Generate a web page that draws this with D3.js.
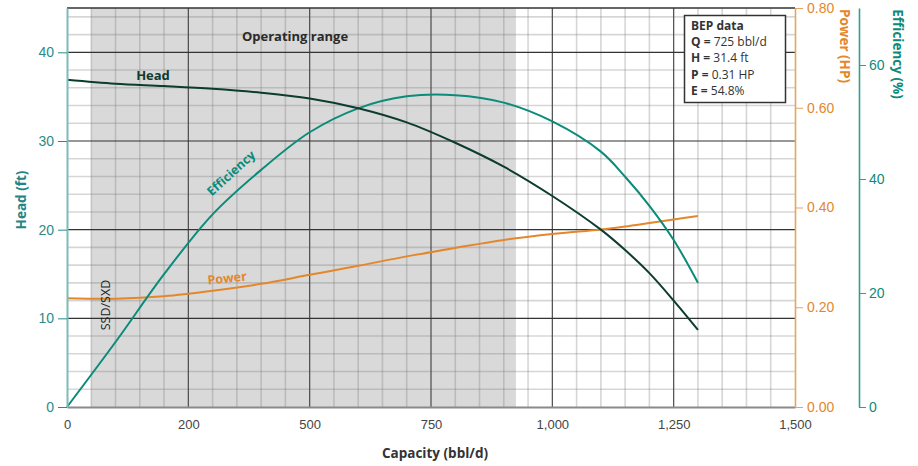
<!DOCTYPE html>
<html>
<head>
<meta charset="utf-8">
<script src="https://cdn.jsdelivr.net/npm/d3@7"></script>
<style>
  body { margin: 0; background: #fff; }
  svg { font-family: "Open Sans", "Noto Sans", sans-serif; }
</style>
</head>
<body>
<div id="vis"></div>
<script>
// pump curve chart

const FRAME_WIDTH = 918;
const FRAME_HEIGHT = 466;
const MARGINS = {left: 67, right: 123, top: 8, bottom: 59};

// data
const CAPACITY = [0, 100, 200, 300, 400, 500, 600, 700, 800, 900, 1000, 1100, 1150, 1200, 1250, 1300];
const HEAD = [36.9, 36.45, 36.2, 35.9, 35.45, 34.8, 33.7, 32.1, 29.8, 27.1, 23.8, 20.0, 17.7, 15.1, 12.0, 8.7];
const EFFICIENCY = [0, 11.4, 23.3, 33.8, 41.6, 48.2, 52.4, 54.5, 54.7, 53.4, 50.1, 44.8, 40.4, 35.3, 29.3, 21.8];
const POWER = [0.218, 0.217, 0.222, 0.233, 0.247, 0.265, 0.283, 0.302, 0.319, 0.335, 0.347, 0.356,
               0.362, 0.369, 0.376, 0.383];

const X_TICKS = [0, 250, 500, 750, 1000, 1250, 1500];
const X_TICK_LABELS = ["0", "200", "500", "750", "1,000", "1,250", "1,500"];
const HEAD_TICKS = [0, 10, 20, 30, 40];
const POWER_TICKS = [0, 0.2, 0.4, 0.6, 0.8];
const EFF_TICKS = [0, 20, 40, 60];
const OPERATING_RANGE = [50, 925];
const BEP_LINES = [["Q =", " 725 bbl/d"], ["H =", " 31.4 ft"], ["P =", " 0.31 HP"], ["E =", " 54.8%"]];

const HEAD_COLOR = "#0c3b2f";
const EFF_COLOR = "#0b8b7a";
const POWER_COLOR = "#e4872b";
const TEAL_TEXT = "#2a8b8c";

const VIS_WIDTH = FRAME_WIDTH - MARGINS.left - MARGINS.right;
const VIS_HEIGHT = FRAME_HEIGHT - MARGINS.top - MARGINS.bottom;
const X0 = MARGINS.left, X1 = MARGINS.left + VIS_WIDTH;
const Y0 = MARGINS.top + VIS_HEIGHT, Y1 = MARGINS.top;

const FRAME = d3.select("#vis")
                .append("svg")
                    .attr("width", FRAME_WIDTH)
                    .attr("height", FRAME_HEIGHT);

const X_SCALE = d3.scaleLinear().domain([0, 1500]).range([X0, X1]);
const HEAD_SCALE = d3.scaleLinear().domain([0, 45]).range([Y0, Y1]);
const POWER_SCALE = d3.scaleLinear().domain([0, 0.8]).range([Y0, Y1]);
const EFF_SCALE = d3.scaleLinear().domain([0, 70]).range([Y0, Y1]);

// operating range shading
FRAME.append("rect")
    .attr("x", X_SCALE(OPERATING_RANGE[0]))
    .attr("y", Y1)
    .attr("width", X_SCALE(OPERATING_RANGE[1]) - X_SCALE(OPERATING_RANGE[0]))
    .attr("height", Y0 - Y1)
    .attr("fill", "#d9d9d9");

// minor grid
FRAME.append("g")
    .selectAll("line")
    .data(d3.range(50, 1500, 50).filter((d) => d % 250 != 0))
    .enter()
    .append("line")
        .attr("x1", (d) => X_SCALE(d))
        .attr("x2", (d) => X_SCALE(d))
        .attr("y1", Y1).attr("y2", Y0)
        .attr("stroke", "rgba(120,120,120,0.3)")
        .attr("stroke-width", 1.6);

FRAME.append("g")
    .selectAll("line")
    .data(d3.range(2, 46, 2).filter((d) => d % 10 != 0))
    .enter()
    .append("line")
        .attr("x1", X0).attr("x2", X1)
        .attr("y1", (d) => HEAD_SCALE(d))
        .attr("y2", (d) => HEAD_SCALE(d))
        .attr("stroke", "rgba(120,120,120,0.3)")
        .attr("stroke-width", 1.6);

// major grid
FRAME.append("g")
    .selectAll("line")
    .data(X_TICKS.slice(1, -1))
    .enter()
    .append("line")
        .attr("x1", (d) => X_SCALE(d))
        .attr("x2", (d) => X_SCALE(d))
        .attr("y1", Y1).attr("y2", Y0)
        .attr("stroke", "#4a4a4a")
        .attr("stroke-width", 1.2);

FRAME.append("g")
    .selectAll("line")
    .data(HEAD_TICKS.slice(1))
    .enter()
    .append("line")
        .attr("x1", X0).attr("x2", X1)
        .attr("y1", (d) => HEAD_SCALE(d))
        .attr("y2", (d) => HEAD_SCALE(d))
        .attr("stroke", "#333")
        .attr("stroke-width", 1.2);

// top border
FRAME.append("line")
    .attr("x1", X0).attr("x2", X1)
    .attr("y1", Y1).attr("y2", Y1)
    .attr("stroke", "#333")
    .attr("stroke-width", 1.5);

// curves
function draw_curve(values, yScale, color) {
    const line = d3.line()
        .x((d, i) => X_SCALE(CAPACITY[i]))
        .y((d) => yScale(d))
        .curve(d3.curveCatmullRom.alpha(0.5));
    FRAME.append("path")
        .datum(values)
        .attr("d", line)
        .attr("fill", "none")
        .attr("stroke", color)
        .attr("stroke-width", 2);
}

draw_curve(POWER, POWER_SCALE, POWER_COLOR);
draw_curve(EFFICIENCY, EFF_SCALE, EFF_COLOR);
draw_curve(HEAD, HEAD_SCALE, HEAD_COLOR);

// x axis
const X_AXIS = FRAME.append("g")
    .attr("transform", "translate(0," + Y0 + ")")
    .call(d3.axisBottom(X_SCALE)
            .tickValues(X_TICKS)
            .tickSize(0)
            .tickPadding(13)
            .tickFormat((d, i) => X_TICK_LABELS[i]));
X_AXIS.select(".domain").attr("stroke", "#8a8a8a").attr("stroke-width", 2.2);
X_AXIS.selectAll("text").attr("font-size", "13px").attr("fill", "#444");

// head axis (left)
const HEAD_AXIS = FRAME.append("g")
    .attr("transform", "translate(" + X0 + ",0)")
    .call(d3.axisLeft(HEAD_SCALE).tickValues(HEAD_TICKS).tickSize(9).tickSizeOuter(0).tickPadding(4));
HEAD_AXIS.select(".domain").attr("stroke", "#7dbcbc").attr("stroke-width", 2);
HEAD_AXIS.selectAll("line").attr("stroke", TEAL_TEXT);
HEAD_AXIS.selectAll("text").attr("font-size", "14px").attr("fill", TEAL_TEXT);

// power axis (right)
const POWER_AXIS = FRAME.append("g")
    .attr("transform", "translate(" + X1 + ",0)")
    .call(d3.axisRight(POWER_SCALE).tickValues(POWER_TICKS).tickSize(8).tickSizeOuter(0)
            .tickPadding(4).tickFormat(d3.format(".2f")));
POWER_AXIS.select(".domain").attr("stroke", "#eaa35f").attr("stroke-width", 1.6);
POWER_AXIS.selectAll("line").attr("stroke", "#eaa35f");
POWER_AXIS.selectAll("text").attr("font-size", "14px").attr("fill", POWER_COLOR);

// efficiency axis (far right)
const EFF_AXIS = FRAME.append("g")
    .attr("transform", "translate(859,0)")
    .call(d3.axisRight(EFF_SCALE).tickValues(EFF_TICKS).tickSize(7).tickSizeOuter(0).tickPadding(3));
EFF_AXIS.select(".domain").attr("stroke", "#2f9f90").attr("stroke-width", 1.6);
EFF_AXIS.selectAll("line").attr("stroke", "#2f9f90");
EFF_AXIS.selectAll("text").attr("font-size", "14px").attr("fill", EFF_COLOR);

// axis titles
FRAME.append("text")
    .attr("transform", "translate(21,200) rotate(-90)")
    .attr("text-anchor", "middle")
    .attr("dominant-baseline", "central")
    .attr("font-size", "13.5px").attr("font-weight", "bold")
    .attr("fill", "#1f8585")
    .text("Head (ft)");

FRAME.append("text")
    .attr("transform", "translate(845,46) rotate(90)")
    .attr("text-anchor", "middle")
    .attr("dominant-baseline", "central")
    .attr("font-size", "13.5px").attr("font-weight", "bold")
    .attr("fill", POWER_COLOR)
    .text("Power (HP)");

FRAME.append("text")
    .attr("transform", "translate(898,54) rotate(90)")
    .attr("text-anchor", "middle")
    .attr("dominant-baseline", "central")
    .attr("font-size", "13.5px").attr("font-weight", "bold")
    .attr("fill", EFF_COLOR)
    .text("Efficiency (%)");

FRAME.append("text")
    .attr("x", 435).attr("y", 458)
    .attr("text-anchor", "middle")
    .attr("font-size", "13.5px").attr("font-weight", "bold")
    .attr("fill", "#333")
    .text("Capacity (bbl/d)");

// curve labels
FRAME.append("text")
    .attr("x", 295).attr("y", 41)
    .attr("text-anchor", "middle")
    .attr("font-size", "13px").attr("font-weight", "bold")
    .attr("fill", "#2a2a2a")
    .text("Operating range");

FRAME.append("text")
    .attr("x", 153).attr("y", 80)
    .attr("text-anchor", "middle")
    .attr("font-size", "13px").attr("font-weight", "bold")
    .attr("fill", HEAD_COLOR)
    .text("Head");

FRAME.append("text")
    .attr("transform", "translate(231,173) rotate(-42)")
    .attr("text-anchor", "middle")
    .attr("dominant-baseline", "central")
    .attr("font-size", "12.5px").attr("font-weight", "bold")
    .attr("fill", EFF_COLOR)
    .text("Efficiency");

FRAME.append("text")
    .attr("transform", "translate(227,278) rotate(-6)")
    .attr("text-anchor", "middle")
    .attr("dominant-baseline", "central")
    .attr("font-size", "12.5px").attr("font-weight", "bold")
    .attr("fill", POWER_COLOR)
    .text("Power");

FRAME.append("text")
    .attr("transform", "translate(105,305) rotate(-90)")
    .attr("text-anchor", "middle")
    .attr("dominant-baseline", "central")
    .attr("font-size", "12.5px")
    .attr("fill", "#222")
    .text("SSD/SXD");

// BEP box
FRAME.append("rect")
    .attr("x", 684.5).attr("y", 15.5)
    .attr("width", 101).attr("height", 87)
    .attr("fill", "#fff")
    .attr("stroke", "#333")
    .attr("stroke-width", 1.5);

FRAME.append("text")
    .attr("x", 691).attr("y", 29.5)
    .attr("font-size", "12px").attr("font-weight", "bold")
    .attr("fill", "#333")
    .text("BEP data");

BEP_LINES.forEach((d, i) => {
    const t = FRAME.append("text")
        .attr("x", 691).attr("y", 46 + i * 16.4)
        .attr("font-size", "12px")
        .attr("fill", "#333");
    t.append("tspan").attr("font-weight", "bold").text(d[0]);
    t.append("tspan").text(d[1]);
});
</script>
</body>
</html>
